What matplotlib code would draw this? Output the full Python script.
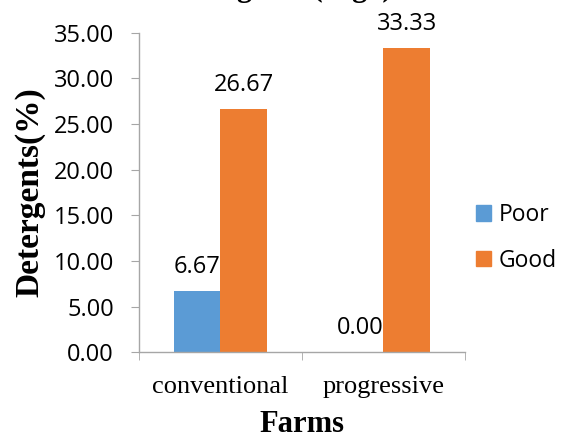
import matplotlib
matplotlib.use('Agg')
import matplotlib.pyplot as plt
from matplotlib.patches import Patch
import numpy as np

farms = ['conventional', 'progressive']
poor = [6.67, 0.00]
good = [26.67, 33.33]

blue = '#5B9BD5'
orange = '#ED7D31'
axis_grey = '#A6A6A6'
num_font = 'Open Sans'
serif = 'Liberation Serif'

fig = plt.figure(figsize=(5.65, 4.38), dpi=100)
ax = fig.add_axes([0.246, 0.1957, 0.577, 0.7297])

x = np.arange(len(farms))
w = 0.287
bars_poor = ax.bar(x - w / 2, poor, w, color=blue, label='Poor')
bars_good = ax.bar(x + w / 2, good, w, color=orange, label='Good')

# value labels above every bar
for bars, vals in ((bars_poor, poor), (bars_good, good)):
    for b, v in zip(bars, vals):
        ax.annotate(f'{v:.2f}', (b.get_x() + b.get_width() / 2, v),
                    xytext=(0, 13), textcoords='offset points',
                    ha='center', va='baseline', fontsize=17,
                    family=num_font, color='black')

ax.set_xlim(-0.5, len(farms) - 0.5)
ax.set_ylim(0, 35)
ax.set_yticks(np.arange(0, 35.01, 5))
ax.set_yticklabels([f'{t:.2f}' for t in np.arange(0, 35.01, 5)],
                   family=num_font, fontsize=17)
ax.set_xticks(x)
ax.set_xticklabels(farms, family=serif, fontsize=19)
ax.set_xticks(np.arange(-0.5, len(farms), 1), minor=True)
ax.tick_params(axis='x', which='major', length=0, pad=17)
ax.tick_params(axis='x', which='minor', length=6, color=axis_grey, direction='out')
ax.tick_params(axis='y', length=6, color=axis_grey, direction='out', pad=12)

for side in ('top', 'right'):
    ax.spines[side].set_visible(False)
for side in ('left', 'bottom'):
    ax.spines[side].set_color(axis_grey)
    ax.spines[side].set_linewidth(1.0)

ax.set_ylabel('Detergents(%)', family=serif, fontweight='bold', fontsize=24, labelpad=6)
ax.set_xlabel('Farms', family=serif, fontweight='bold', fontsize=22, labelpad=9)

handles = [Patch(color=blue), Patch(color=orange)]
fig.legend(handles, ['Poor', 'Good'], loc='center left',
           bbox_to_anchor=(0.806, 0.4566), frameon=False,
           prop={'family': num_font, 'size': 16.5},
           handlelength=0.65, handleheight=0.65, handletextpad=0.35,
           labelspacing=0.95)

fig.text(0.492, 1 + 4 / 438, 'Detergents (Vigo)', family=serif,
         fontweight='bold', fontsize=22, ha='center', va='baseline')

fig.savefig('out.png', dpi=100)
